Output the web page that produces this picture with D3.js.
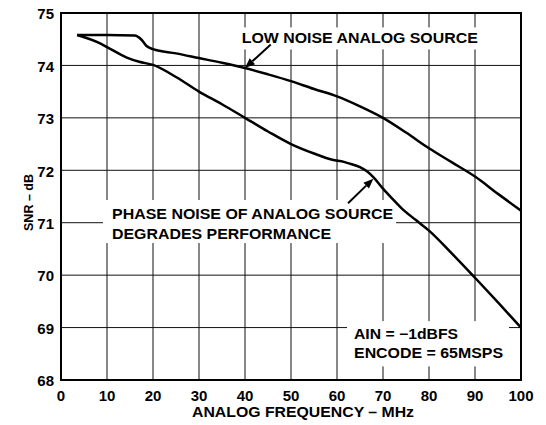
<!DOCTYPE html>
<html>
<head>
<meta charset="utf-8">
<script src="https://cdn.jsdelivr.net/npm/d3@7"></script>
<style>
  body { margin: 0; background: #fff; }
  text { font-family: "Liberation Sans", Arial, Helvetica, sans-serif; font-weight: bold; fill: #000; }
</style>
</head>
<body>
<div id="chart"></div>
<script>
// SNR vs analog input frequency
const lowNoiseFreq = [3.5, 10, 16, 17.5, 18.6, 20, 25, 30, 35, 40, 45, 50, 55, 60, 65, 70, 75, 80, 85, 90, 95, 100];
const lowNoiseSnr  = [74.58, 74.58, 74.57, 74.49, 74.37, 74.31, 74.23, 74.14, 74.05, 73.95, 73.83, 73.70, 73.55, 73.41, 73.22, 73.0, 72.72, 72.42, 72.15, 71.88, 71.55, 71.23];

const phaseNoiseFreq = [3.5, 8.5, 10, 14.3, 17, 20, 25, 30, 35, 40, 45, 50, 55, 59, 61.5, 63, 65, 66.5, 68, 70, 72, 74, 77, 80, 85, 90, 95, 100];
const phaseNoiseSnr  = [74.58, 74.42, 74.35, 74.15, 74.07, 74.01, 73.78, 73.5, 73.26, 73.0, 72.74, 72.5, 72.32, 72.2, 72.16, 72.12, 72.06, 71.98, 71.86, 71.65, 71.46, 71.28, 71.06, 70.85, 70.41, 69.95, 69.48, 69.0];

const xTicks = [0, 10, 20, 30, 40, 50, 60, 70, 80, 90, 100];
const yTicks = [68, 69, 70, 71, 72, 73, 74, 75];

const width = 546, height = 425;
const margin = { top: 13, right: 25, bottom: 45, left: 61 };
const w = width - margin.left - margin.right;
const h = height - margin.top - margin.bottom;

const svg = d3.select("#chart").append("svg")
  .attr("width", width)
  .attr("height", height);

const g = svg.append("g")
  .attr("transform", "translate(" + margin.left + "," + margin.top + ")");

const x = d3.scaleLinear().domain([0, 100]).range([0, w]);
const y = d3.scaleLinear().domain([68, 75]).range([h, 0]);

// grid
g.append("g")
  .selectAll("line")
  .data(xTicks)
  .join("line")
  .attr("x1", d => x(d)).attr("x2", d => x(d))
  .attr("y1", 0).attr("y2", h)
  .attr("stroke", "#111").attr("stroke-width", 1);

g.append("g")
  .selectAll("line")
  .data(yTicks)
  .join("line")
  .attr("x1", 0).attr("x2", w)
  .attr("y1", d => y(d)).attr("y2", d => y(d))
  .attr("stroke", "#111").attr("stroke-width", 1);

// tick labels
g.append("g")
  .selectAll("text")
  .data(xTicks)
  .join("text")
  .attr("x", d => x(d))
  .attr("y", h + 20.5)
  .attr("text-anchor", "middle")
  .style("font-size", "15px")
  .text(d => d);

g.append("g")
  .selectAll("text")
  .data(yTicks)
  .join("text")
  .attr("x", -7)
  .attr("y", d => y(d))
  .attr("dy", "0.42em")
  .attr("text-anchor", "end")
  .style("font-size", "15px")
  .text(d => d);

// axis titles
g.append("text")
  .attr("x", 303 - margin.left)
  .attr("y", h + 37)
  .attr("text-anchor", "middle")
  .attr("textLength", 222).attr("lengthAdjust", "spacingAndGlyphs")
  .style("font-size", "14px")
  .text("ANALOG FREQUENCY – MHz");

svg.append("text")
  .attr("transform", "translate(32.5,202.5) rotate(-90)")
  .attr("text-anchor", "middle")
  .style("font-size", "12.5px")
  .text("SNR – dB");

// annotation labels with white backing boxes
function label(lines, fx, fy, lineGap, lengths, pad) {
  const grp = g.append("g");
  const bg = grp.append("rect").attr("fill", "#fff");
  const t = grp.append("text").style("font-size", "14px");
  lines.forEach((s, i) => {
    t.append("tspan")
      .attr("x", x(fx))
      .attr("y", y(fy) + i * lineGap)
      .attr("textLength", lengths[i])
      .attr("lengthAdjust", "spacingAndGlyphs")
      .text(s);
  });
  const bb = t.node().getBBox();
  bg.attr("x", bb.x - pad[0])
    .attr("y", bb.y - pad[1])
    .attr("width", bb.width + pad[0] + pad[2])
    .attr("height", bb.height + pad[1] + pad[3]);
}

label(["LOW NOISE ANALOG SOURCE"], 39.3, 74.42, 0, [236], [4, 3, 4, 3]);
label(["PHASE NOISE OF ANALOG SOURCE", "DEGRADES PERFORMANCE"], 11.1, 71.07, 20, [281, 219], [9, 6, 3, 1]);
label(["AIN = −1dBFS", "ENCODE = 65MSPS"], 63.7, 68.78, 19.3, [104, 149], [7, 5, 6, 5]);

// curves
const line = d3.line()
  .x(d => x(d[0]))
  .y(d => y(d[1]))
  .curve(d3.curveMonotoneX);

g.append("path")
  .datum(d3.zip(lowNoiseFreq, lowNoiseSnr))
  .attr("d", line)
  .attr("fill", "none")
  .attr("stroke", "#000")
  .attr("stroke-width", 2.5)
  .attr("stroke-linejoin", "round");

g.append("path")
  .datum(d3.zip(phaseNoiseFreq, phaseNoiseSnr))
  .attr("d", line)
  .attr("fill", "none")
  .attr("stroke", "#000")
  .attr("stroke-width", 2.5)
  .attr("stroke-linejoin", "round");

// arrows
function arrow(from, to) {
  const x0 = x(from[0]), y0 = y(from[1]);
  const x1 = x(to[0]), y1 = y(to[1]);
  const ang = Math.atan2(y1 - y0, x1 - x0);
  const len = 10, half = 4;
  const bx = x1 - len * Math.cos(ang), by = y1 - len * Math.sin(ang);
  g.append("line")
    .attr("x1", x0).attr("y1", y0).attr("x2", bx).attr("y2", by)
    .attr("stroke", "#000").attr("stroke-width", 2);
  g.append("path")
    .attr("d", "M" + x1 + "," + y1 +
      "L" + (bx + half * Math.sin(ang)) + "," + (by - half * Math.cos(ang)) +
      "L" + (bx - half * Math.sin(ang)) + "," + (by + half * Math.cos(ang)) + "Z")
    .attr("fill", "#000");
}

arrow([45.6, 74.40], [40.0, 73.95]);
arrow([62.4, 71.37], [67.9, 71.84]);

// frame
g.append("rect")
  .attr("width", w).attr("height", h)
  .attr("fill", "none")
  .attr("stroke", "#000")
  .attr("stroke-width", 2);
</script>
</body>
</html>
